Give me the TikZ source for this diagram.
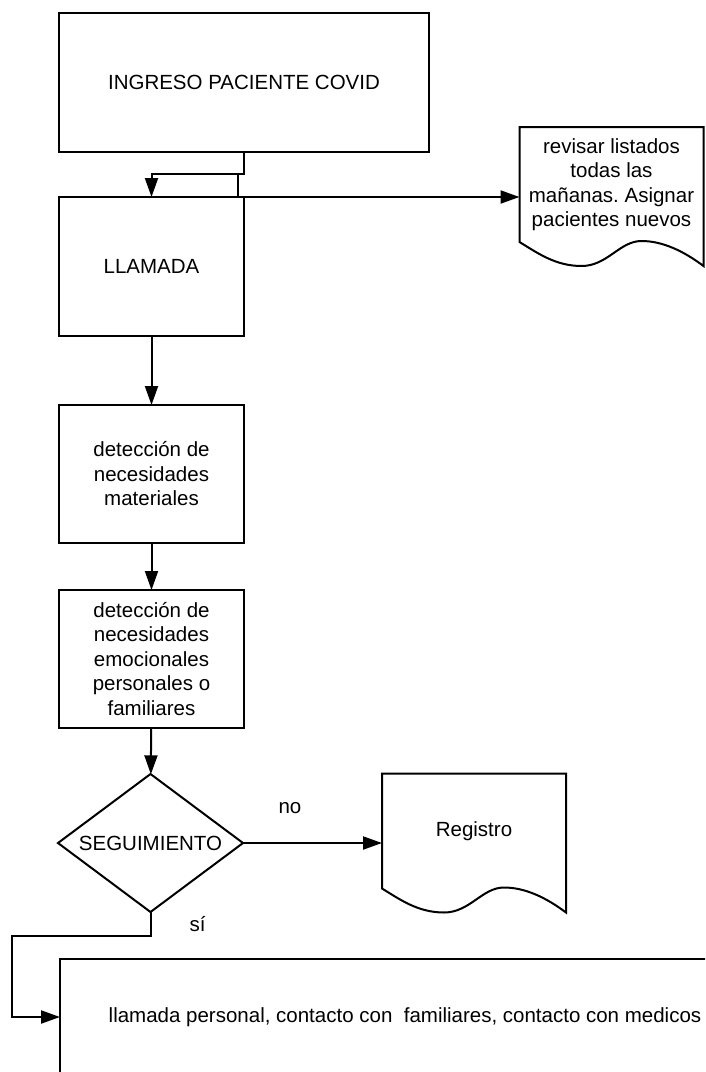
\documentclass[tikz,border=0pt]{standalone}
\usepackage{fontspec}
\setmainfont{Liberation Sans}
\usepackage{tikz}
\usetikzlibrary{positioning,shapes.geometric,arrows.meta}
\frenchspacing

\tikzset{
  box/.style={draw, line width=2pt, align=center, inner sep=0pt, outer sep=0pt},
  docnode/.style={align=center, inner sep=0pt, outer sep=0pt, minimum width=184pt, minimum height=115pt},
  decision/.style={diamond, draw, line width=2pt, inner sep=0pt, outer sep=0pt, aspect=1.34, minimum width=185pt, minimum height=138pt},
  arr/.style={line width=2pt, -{Triangle[length=19pt,width=13pt]}},
  lbl/.style={inner sep=0pt},
}
% wavy bottom of a document shape
\newcommand{\docoutline}[1]{%
  \draw[line width=2pt, shift={(#1.north west)}] (0,115) -- (0,0) -- (184,0) -- (184,139)
    .. controls (164,124) and (143,114) .. (122,114)
    .. controls (100,114) and (88,139) .. (62,139)
    .. controls (36,139) and (18,126) .. (0,115) -- cycle;}

\begin{document}
\begin{tikzpicture}[x=1pt, y=-1pt, every node/.style={font=\fontsize{20.5}{24.5}\selectfont}]
\useasboundingbox (0,0) rectangle (705,1072);
\clip (0,0) rectangle (705,1072);

	\node[box, minimum width=370pt, minimum height=139pt] (ingreso) at (244,82.5) {INGRESO PACIENTE COVID};
	\node[box, minimum width=185pt, minimum height=139pt] (llamada) at (151.5,266.5) {LLAMADA};
	\node[box, minimum width=185pt, minimum height=138pt] (materiales) at (151.5,474) {detección de\\necesidades\\materiales};
	\node[box, minimum width=185pt, minimum height=138pt] (emocionales) at (151.5,659) {detección de\\necesidades\\emocionales\\personales o\\familiares};
	\node[decision] (seguimiento) at (150.5,843) {SEGUIMIENTO};
	\node[box, minimum width=690pt, minimum height=116pt] (contacto) at (405,1017) {llamada personal, contacto con\ \ familiares, contacto con medicos};

	\node[docnode] (revisar) at (611.5,184.5) {revisar listados\\todas las\\mañanas. Asignar\\pacientes nuevos};
	\docoutline{revisar}
	\node[docnode] (registro) at (474,831) {Registro};
	\docoutline{registro}

	\node[lbl] (no) at (290,808.5) {no};
	\node[lbl] (si) at (197.5,924.5) {sí};

	\coordinate (split) at (238,174);
	\coordinate (bend) at (12,936);

	\draw[arr] (ingreso.south) -- ++(0,22) -| (llamada.north);
	\draw[arr] (split) |- (revisar.west |- llamada.north);
	\draw[arr] (llamada) -- (materiales);
	\draw[arr] (materiales) -- (emocionales);
	\draw[arr] (emocionales) -- (seguimiento);
	\draw[arr] (seguimiento.east) -- (seguimiento.east -| registro.west);
	\draw[arr] (seguimiento.south) |- (bend) |- (contacto.west);
\end{tikzpicture}
\end{document}
